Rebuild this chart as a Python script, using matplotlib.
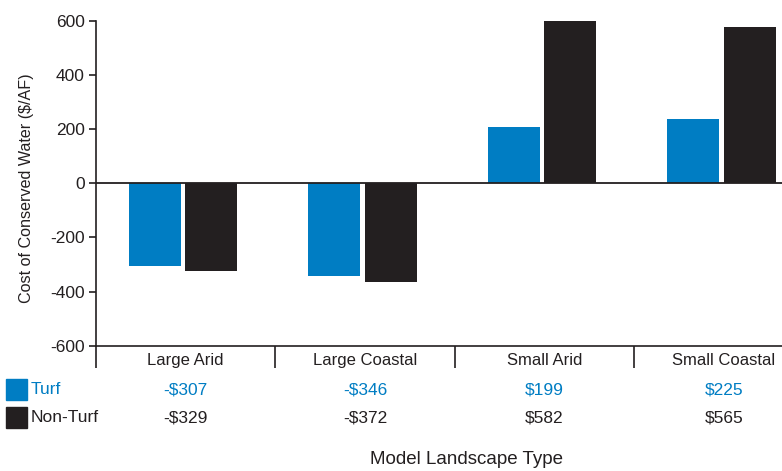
import matplotlib
matplotlib.use("Agg")
import matplotlib.pyplot as plt
import matplotlib.transforms as mtransforms
from matplotlib.patches import Rectangle
import numpy as np

plt.rcParams['font.family'] = ['Liberation Sans Narrow', 'Liberation Sans', 'DejaVu Sans']

categories = ["Large Arid", "Large Coastal", "Small Arid", "Small Coastal"]
series_names = ["Turf", "Non-Turf"]
turf_values = [-305, -343, 207, 236]
nonturf_values = [-324, -366, 598, 576]
turf_labels = ["-$307", "-$346", "$199", "$225"]
nonturf_labels = ["-$329", "-$372", "$582", "$565"]
yticks = [-600, -400, -200, 0, 200, 400, 600]

BLUE = "#007DC3"
DARK = "#231F20"
W, H = 782, 471

fig = plt.figure(figsize=(W / 100, H / 100), dpi=100)
left_px, top_px, bot_px = 95.7, 20.7, 345.7
cat_px = 179.5
ax = fig.add_axes([left_px / W, (H - bot_px) / H, 4 * cat_px / W, (bot_px - top_px) / H])

x = np.arange(len(categories))
bw = 0.29
off = 0.157
shift = -0.013
ax.bar(x - off + shift, turf_values, width=bw, color=BLUE, zorder=2)
ax.bar(x + off + shift, nonturf_values, width=bw, color=DARK, zorder=2)
ax.axhline(0, color=DARK, lw=1.3, zorder=3)

ax.set_xlim(-0.5, 3.5)
ax.set_ylim(-600, 600)
ax.set_yticks(yticks)
ax.set_yticklabels([str(v) for v in yticks])
ax.set_xticks([])
for s in ["top", "right"]:
    ax.spines[s].set_visible(False)
for s in ["left", "bottom"]:
    ax.spines[s].set_color(DARK)
    ax.spines[s].set_linewidth(1.2)
ax.tick_params(axis='y', length=5, width=1.2, color=DARK, labelsize=12.5,
               labelcolor=DARK, pad=3)

# table-like area below the axes
blend = mtransforms.blended_transform_factory(ax.transData, ax.transAxes)
blend_fig = mtransforms.blended_transform_factory(ax.transData, fig.transFigure)
div_bottom = (bot_px - 368) / (bot_px - top_px)
for xv in [-0.5, 0.5, 1.5, 2.5]:
    ax.plot([xv, xv], [0, div_bottom], transform=blend, color=DARK, lw=1.2,
            clip_on=False, solid_capstyle='butt')

for i, c in enumerate(categories):
    ax.text(i, (H - 360.7) / H, c, transform=blend_fig, ha='center', va='center',
            fontsize=12, color=DARK)
    ax.text(i, (H - 390) / H, turf_labels[i], transform=blend_fig, ha='center',
            va='center', fontsize=12.5, color=BLUE)
    ax.text(i, (H - 418) / H, nonturf_labels[i], transform=blend_fig, ha='center',
            va='center', fontsize=12.5, color=DARK)

# legend squares
fig.patches.append(Rectangle((6 / W, (H - 400) / H), 21 / W, 21 / H,
                             transform=fig.transFigure, color=BLUE))
fig.patches.append(Rectangle((6 / W, (H - 428) / H), 21 / W, 21 / H,
                             transform=fig.transFigure, color=DARK))
fig.text(31 / W, (H - 390) / H, series_names[0], ha='left', va='center',
         fontsize=12.5, color=BLUE)
fig.text(31 / W, (H - 418) / H, series_names[1], ha='left', va='center',
         fontsize=12.5, color=DARK)

fig.text(27 / W, (H - 188.5) / H, "Cost of Conserved Water ($/AF)", rotation=90,
         ha='center', va='center', fontsize=11.6, color=DARK)
fig.text(466 / W, (H - 460) / H, "Model Landscape Type",
         ha='center', va='center', fontsize=13.5, color=DARK)

fig.savefig("out.png", dpi=100)
